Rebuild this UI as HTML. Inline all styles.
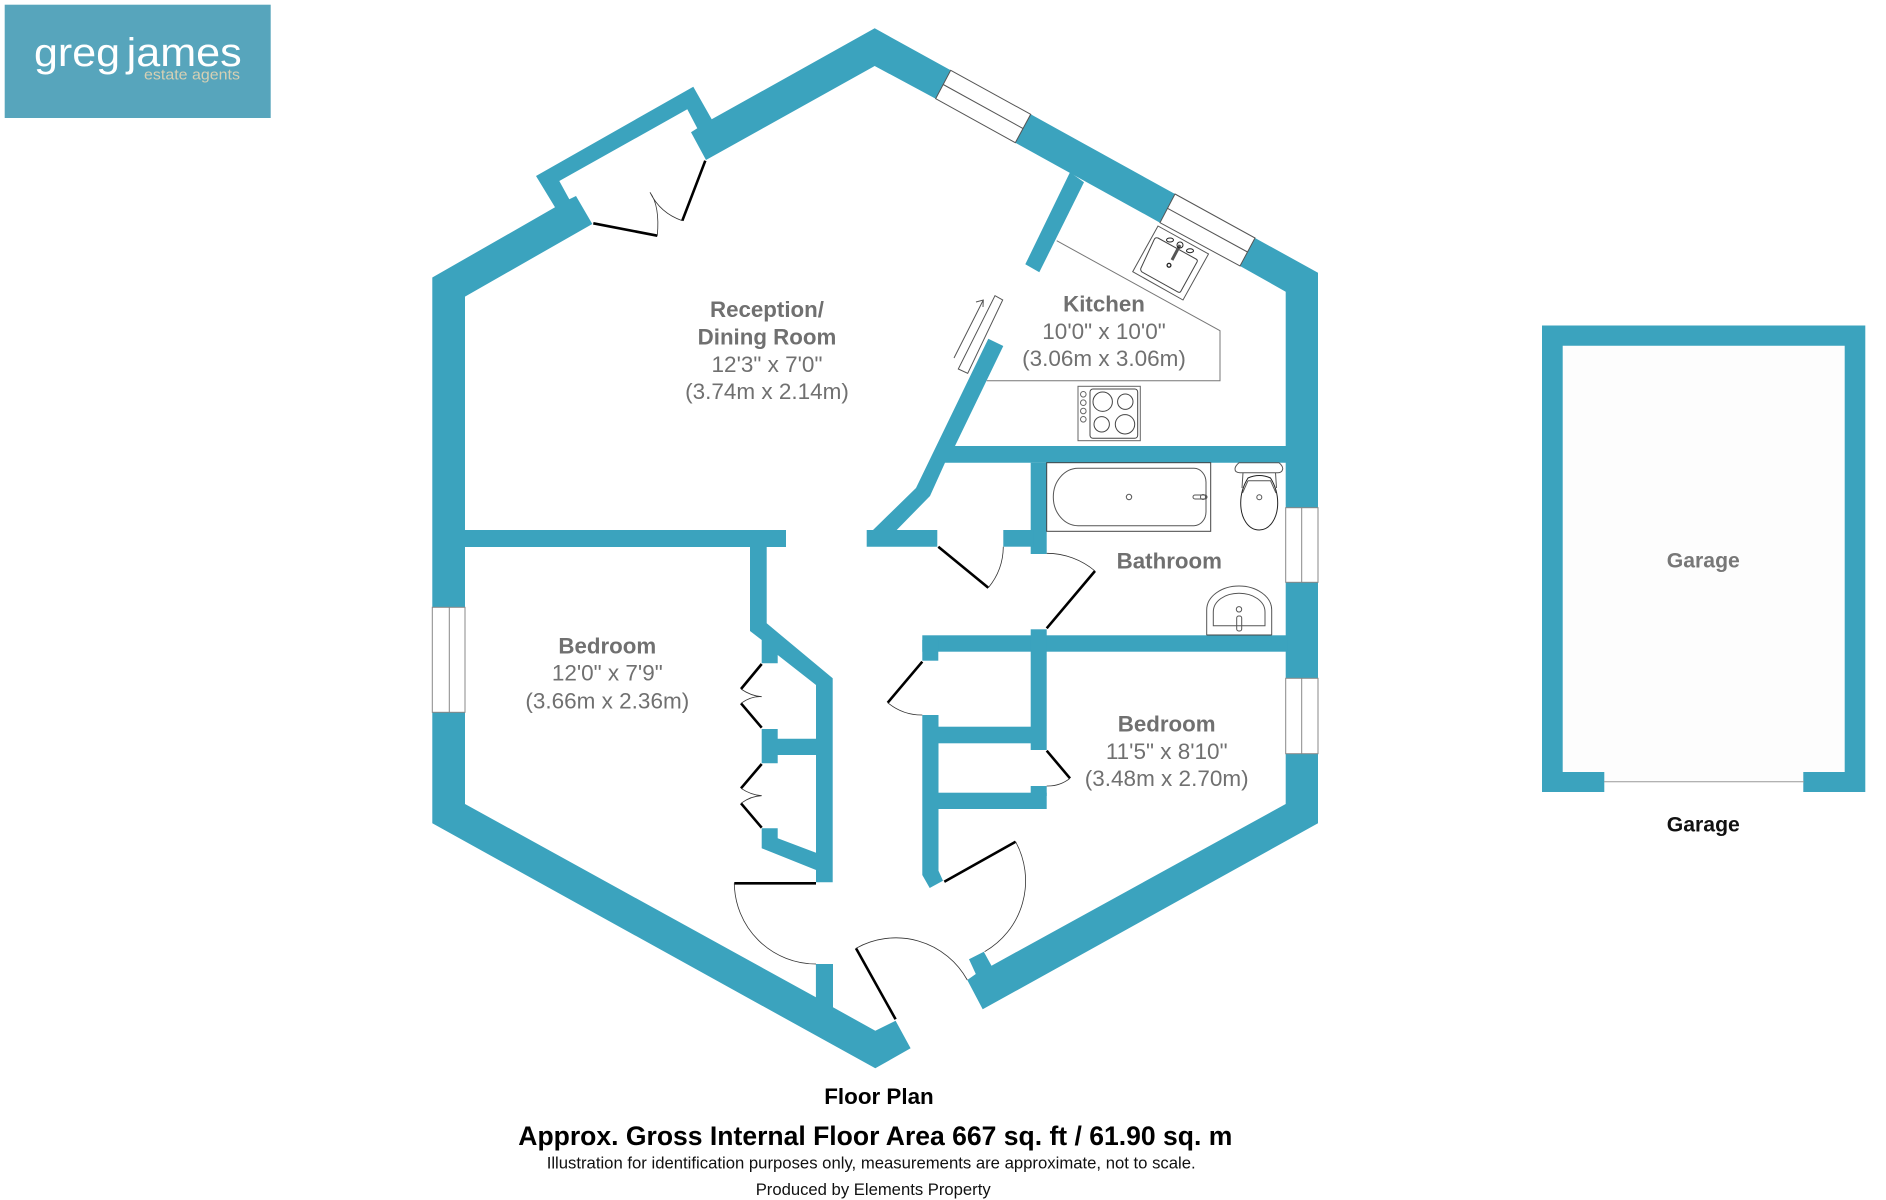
<!DOCTYPE html>
<html><head><meta charset="utf-8"><title>Floor Plan</title>
<style>html,body{margin:0;padding:0;background:#fff}svg{display:block}text{font-family:"Liberation Sans",sans-serif}</style>
</head><body>
<svg width="1886" height="1200" viewBox="0 0 1886 1200" xmlns="http://www.w3.org/2000/svg">
<rect width="1886" height="1200" fill="#fff"/>
<!-- logo -->
<rect x="4.7" y="4.7" width="266" height="113.3" fill="#57a5bc"/>
<text x="34" y="66" font-size="40" fill="#fff" textLength="86" lengthAdjust="spacingAndGlyphs">greg</text>
<text x="126.7" y="66" font-size="40" fill="#fff" textLength="115" lengthAdjust="spacingAndGlyphs">james</text>
<text x="144" y="79.5" font-size="15" fill="#d6d0b4" textLength="96" lengthAdjust="spacingAndGlyphs">estate agents</text>
<!-- garage -->
<rect x="1562" y="345" width="283" height="437" fill="#fdfdfd"/>
<path fill="#3ba3be" d="M1542 325.5H1865.3V792H1803.3V772H1844.7V345.8H1562.7V772H1604.3V792H1542Z"/>
<line x1="1604" y1="781.7" x2="1804" y2="781.7" stroke="#999" stroke-width="1"/>
<text x="1703.3" y="567.6" font-size="21.2" font-weight="700" fill="#777" text-anchor="middle">Garage</text>
<text x="1703.3" y="831.7" font-size="21.2" font-weight="700" fill="#111" text-anchor="middle">Garage</text>
<!-- walls -->
<g fill="#3ba3be">
<polygon points="432.3,277.5 555,207.3 536,176 693.3,86.7 711.7,119.3 874.7,28.3 950.7,70.3 935.7,98.7 874.7,66 706,160 691,132.3 697.3,128.3 687.3,109.3 559.3,181 569.3,199.3 576,196 592.3,224 465,296.6 465,607.3 432.3,607.3"/>
<polygon points="1030.7,114.3 1175,194 1160,222.7 1015.3,142.7"/>
<polygon points="1255,238 1318,272.7 1318,507.7 1285.7,507.7 1285.7,291.7 1240,266"/>
<rect x="1285.7" y="582.3" width="32.3" height="96"/>
<polygon points="1285.7,753.7 1318,753.7 1318,823.3 982.7,1009.3 967.3,980 975.8,974 969,959.3 983.8,951.7 991.5,965.7 1285.7,804"/>
<polygon points="432.3,712.3 465,712.3 465,804 815.9,997.3 815.9,964 833,964 833,1007.3 875.3,1030.7 895.6,1020.7 910.6,1048.3 875.3,1068.3 432.3,823.3"/>
<!-- kitchen stub -->
<polygon points="1070,172.3 1084,182.3 1039.3,272.3 1025.3,264.3"/>
<!-- diagonal -->
<polygon points="988.3,338.7 1003.3,346 955,446 1290,446 1290,462.7 945,462.7 930,496 896.7,530 937.3,530 937.3,546.7 866.7,546.7 866.7,530 873,530 916,488"/>
<rect x="1030.7" y="462.7" width="16" height="91.3"/>
<rect x="1003.3" y="530" width="30" height="16.7"/>
<!-- mid horizontal -->
<rect x="922.3" y="635.3" width="365" height="16.4"/>
<rect x="922.3" y="640" width="16" height="20.7"/>
<rect x="1030.7" y="629.3" width="16" height="120.7"/>
<polygon points="922.3,715 938.5,715 938.5,870.7 943,880.7 929.7,888 922.3,875"/>
<rect x="938" y="726.7" width="93" height="16.6"/>
<rect x="938" y="792.7" width="108.7" height="16.3"/>
<rect x="1030.7" y="786" width="16" height="10"/>
<!-- left bedroom walls -->
<rect x="465" y="530" width="321" height="17"/>
<polygon points="750,547 766.7,547 766.7,623.3 832.7,678.3 832.7,882.3 816,882.3 816,870 761.7,848.3 761.7,828.3 777.7,828.3 777.7,838.3 816,852.7 816,755 777.7,755 777.7,763.3 761.7,763.3 761.7,729 777.7,729 777.7,738.7 816,738.7 816,685 777.7,655 777.7,663.3 761.7,663.3 761.7,640 750,631"/>
</g>
<!-- windows -->
<g fill="#fff" stroke="#555" stroke-width="1">
<polygon points="950.7,70.3 1030.7,114.3 1015.3,142.7 935.7,98.7"/>
<line x1="943.2" y1="84.5" x2="1023" y2="128.5"/>
<polygon points="1175,194 1255,238 1240,266 1160,222.7"/>
<line x1="1167.5" y1="208.3" x2="1247.5" y2="252"/>
</g>
<g fill="#fff" stroke="#888" stroke-width="1">
<rect x="432.3" y="607.3" width="32.7" height="105"/>
<line x1="449.3" y1="607.3" x2="449.3" y2="712.3"/>
<rect x="1285.7" y="507.7" width="32.3" height="74.6"/>
<line x1="1301.7" y1="507.7" x2="1301.7" y2="582.3"/>
<rect x="1285.7" y="678.3" width="32.3" height="75.4"/>
<line x1="1301.7" y1="678.3" x2="1301.7" y2="753.7"/>
</g>
<!-- doors thick -->
<g stroke="#000" stroke-width="2.6" fill="none">
<path d="M593.3 223.3L657.3 235.7M705.3 160.7L682.3 220.7"/>
<path d="M761.7 664L741 689M741 703.3L761.7 727.7M761.7 764L741 788.3M741 803.3L761.7 827.7"/>
<path d="M734.3 883.3H816"/>
<path d="M856 948.3L895.6 1019.3M944.3 881.7L1015.6 841.7"/>
<path d="M938.3 546.7L988.3 587.7M1046.7 628.3L1095 571M922.3 661.7L887.7 702.7M1046.7 750.7L1070 778.3"/>
</g>
<!-- door arcs -->
<g stroke="#333" stroke-width=".8" fill="none">
<path d="M657.3 235.7Q660 206 650 192.3Q660 213 682.3 220.7"/>
<path d="M741 689Q751 696 761.7 696.7Q751 696 741 703.3M741 788.3Q751 795 761.7 795.7Q751 796 741 803.3"/>
<path d="M734.3 883.3A81.7 81.7 0 0 0 816 964"/>
<path d="M856 948.3A81.5 81.5 0 0 1 967.3 980"/>
<path d="M1015.6 841.7A81.7 81.7 0 0 1 984.6 951.7"/>
<path d="M988.3 587.7A65 65 0 0 0 1003.3 546.7"/>
<path d="M1095 571A75 75 0 0 0 1046.7 553.3"/>
<path d="M887.7 702.7A53.5 53.5 0 0 0 922.3 715"/>
<path d="M1070 778.3A36 36 0 0 1 1046.7 786"/>
</g>
<!-- kitchen fittings -->
<g fill="none" stroke="#666" stroke-width="1">
<path d="M1056.7 240.7L1220 330.7V380.7H986.7" stroke="#777"/>
<polygon points="995,295.7 1002.7,300 967.7,373.3 958.3,369" stroke="#555"/>
<path d="M954 358L983.3 300M976 302L983.3 300L983 307" stroke="#555"/>
<rect x="1078" y="386.3" width="62.3" height="54.4"/>
<rect x="1090" y="389" width="47.7" height="49.3" rx="3" stroke="#444"/>
<circle cx="1102.7" cy="401.7" r="9.7" stroke="#444"/><circle cx="1125.3" cy="401.7" r="7.7" stroke="#444"/>
<circle cx="1101.7" cy="424.3" r="7.7" stroke="#444"/><circle cx="1125" cy="424.3" r="9.7" stroke="#444"/>
<circle cx="1083.3" cy="394.3" r="2.8"/><circle cx="1083.3" cy="402.7" r="2.8"/><circle cx="1083.3" cy="411" r="2.8"/><circle cx="1083.3" cy="419.3" r="2.8"/>
<polygon points="1158,226 1208.5,254 1183,300 1132.7,271.7" stroke="#555"/>
<path d="M1158 238L1196 259Q1198 260 1197 262L1181 291Q1180 293 1178 292L1142 272Q1140 270 1141 268L1154 240Q1155 237 1158 238Z" stroke="#444"/>
</g>
<g fill="none" stroke="#222" stroke-width="1">
<path d="M1180 245L1172 260" stroke-width="3" stroke="#555"/>
<circle cx="1180" cy="245" r="3"/>
<circle cx="1169" cy="265.3" r="1.9" stroke-width="1.3"/>
<ellipse cx="1170" cy="240" rx="3.5" ry="2"/><ellipse cx="1190" cy="250.7" rx="3.5" ry="2"/>
</g>
<!-- bathroom fittings -->
<g fill="none" stroke="#555" stroke-width="1">
<rect x="1046.7" y="462.7" width="164" height="68.6" stroke="#444"/>
<path d="M1078 468.3H1194A12 14 0 0 1 1206 482.3V511.7A12 14 0 0 1 1194 525.7H1078A25 28.7 0 0 1 1053.3 497A25 28.7 0 0 1 1078 468.3Z"/>
<circle cx="1129" cy="497" r="2.7"/>
<rect x="1193" y="495" width="14" height="4" rx="2"/><circle cx="1203" cy="497" r="2.5"/>
<path d="M1239 462.7H1279Q1283 466 1282.7 469Q1282 472.7 1278 472.7H1240Q1235 472.7 1235 469Q1235 466 1239 462.7Z"/>
<path d="M1243 472.7L1242 488M1275.5 472.7L1276.5 488"/>
<path d="M1248 480.7H1270.5L1276 493"/><path d="M1248 480.7L1242.5 493"/>
<path d="M1259.3 530C1248 530 1240.7 518 1240.7 503C1240.7 495 1243 486 1248 478Q1259.3 473 1270.5 478C1275.5 486 1277.7 495 1277.7 503C1277.7 518 1270 530 1259.3 530Z" stroke="#222"/>
<circle cx="1259.3" cy="497.3" r="2.5"/>
<path d="M1206.7 635.3V610C1206.7 596 1222 586 1239 586C1256 586 1271.7 596 1271.7 610V635.3"/>
<path d="M1213.3 625.7V612C1213.3 601 1225 593.3 1239 593.3C1253 593.3 1265 601 1265 612V625.7Z"/>
<circle cx="1239" cy="609.3" r="2.7"/>
<rect x="1236.7" y="616" width="5" height="15" rx="2"/>
<line x1="1206.7" y1="635" x2="1271.7" y2="635" stroke="#444"/>
</g>
<!-- labels -->
<g fill="#707070" font-size="22.5" text-anchor="middle">
<text x="767" y="317" font-weight="700" font-size="22.3">Reception/</text>
<text x="767" y="344.4" font-weight="700" font-size="22.3">Dining Room</text>
<text x="767" y="372">12'3" x 7'0"</text>
<text x="767" y="399">(3.74m x 2.14m)</text>
<text x="1104" y="311.7" font-weight="700" font-size="22.3">Kitchen</text>
<text x="1104" y="339">10'0" x 10'0"</text>
<text x="1104" y="366">(3.06m x 3.06m)</text>
<text x="1169.3" y="568.7" font-weight="700" font-size="22.3">Bathroom</text>
<text x="607.3" y="653.3" font-weight="700" font-size="22.3">Bedroom</text>
<text x="607.3" y="680.7">12'0" x 7'9"</text>
<text x="607.3" y="708.3">(3.66m x 2.36m)</text>
<text x="1166.7" y="731.7" font-weight="700" font-size="22.3">Bedroom</text>
<text x="1166.7" y="759">11'5" x 8'10"</text>
<text x="1166.7" y="786">(3.48m x 2.70m)</text>
</g>
<g fill="#000">
<text x="879" y="1104" font-size="22.4" font-weight="700" text-anchor="middle">Floor Plan</text>
<text x="518.3" y="1145" font-size="26.5" font-weight="700" textLength="714" lengthAdjust="spacingAndGlyphs">Approx. Gross Internal Floor Area 667 sq. ft / 61.90 sq. m</text>
<text x="546.7" y="1168.3" font-size="16.7" fill="#111" textLength="649" lengthAdjust="spacingAndGlyphs">Illustration for identification purposes only, measurements are approximate, not to scale.</text>
<text x="755.7" y="1195" font-size="16.7" fill="#111" textLength="235" lengthAdjust="spacingAndGlyphs">Produced by Elements Property</text>
</g>
</svg>
</body></html>
